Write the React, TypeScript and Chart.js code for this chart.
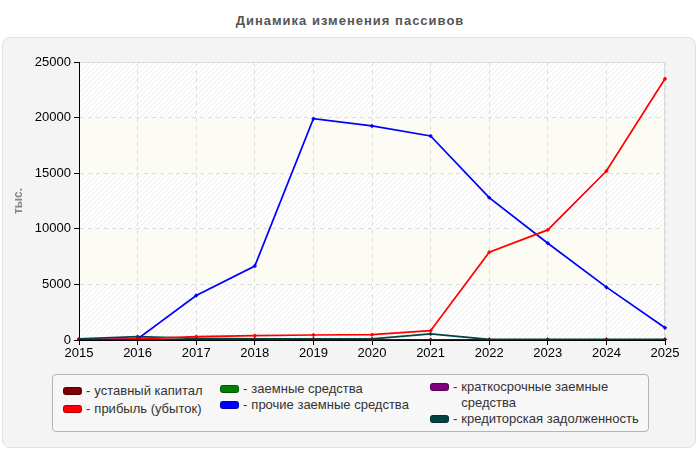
import { useEffect, useRef } from 'react';
import { Chart, registerables } from 'chart.js';

Chart.register(...registerables);

const years = ['2015', '2016', '2017', '2018', '2019', '2020', '2021', '2022', '2023', '2024', '2025'];
const yTicks = [0, 5000, 10000, 15000, 20000, 25000];

const ustavCapital = [10, 10, 10, 10, 10, 10, 10, 10, 10, 10, 10];
const profit = [0, 100, 300, 390, 450, 480, 840, 7900, 9900, 15200, 23500];
const loans = [0, 0, 0, 0, 0, 0, 0, 0, 0, 0, 0];
const otherLoans = [0, 100, 4000, 6650, 19900, 19250, 18350, 12800, 8700, 4750, 1100];
const shortLoans = [0, 0, 0, 0, 0, 0, 0, 0, 0, 0, 0];
const payables = [100, 300, 150, 100, 100, 100, 550, 50, 50, 50, 50];

const FONT = '"Liberation Sans", Arial, sans-serif';

const series = [
  { label: 'уставный капитал', data: ustavCapital, color: '#800000' },
  { label: 'прибыль (убыток)', data: profit, color: '#ff0000' },
  { label: 'заемные средства', data: loans, color: '#008000' },
  { label: 'прочие заемные средства', data: otherLoans, color: '#0000ff' },
  { label: 'краткосрочные заемные средства', data: shortLoans, color: '#800080' },
  { label: 'кредиторская задолженность', data: payables, color: '#004444' },
];

function makeHatch(ctx: CanvasRenderingContext2D) {
  const c = document.createElement('canvas');
  c.width = 5;
  c.height = 5;
  const g = c.getContext('2d')!;
  g.fillStyle = '#ffffff';
  g.fillRect(0, 0, 5, 5);
  g.strokeStyle = '#ececec';
  g.lineWidth = 1;
  g.beginPath();
  g.moveTo(-1, 6);
  g.lineTo(6, -1);
  g.stroke();
  return ctx.createPattern(c, 'repeat');
}

const bandsPlugin = {
  id: 'bands',
  beforeDraw(chart: any) {
    const { ctx, chartArea: a, scales } = chart;
    const y = scales.y;
    const hatch = makeHatch(ctx);
    ctx.save();
    for (let i = 0; i < yTicks.length - 1; i++) {
      const top = y.getPixelForValue(yTicks[i + 1]);
      const bottom = y.getPixelForValue(yTicks[i]);
      ctx.fillStyle = i % 2 === 0 ? hatch : '#fcfcf4';
      ctx.fillRect(a.left, top, a.right - a.left, bottom - top);
    }
    ctx.strokeStyle = '#dcdcdc';
    ctx.lineWidth = 1;
    ctx.beginPath();
    ctx.moveTo(a.left, a.top + 0.5);
    ctx.lineTo(a.right - 0.5, a.top + 0.5);
    ctx.lineTo(a.right - 0.5, a.bottom);
    ctx.stroke();
    ctx.restore();
  },
};

function LiabilitiesChart() {
  const canvasRef = useRef<HTMLCanvasElement>(null);
  const chartRef = useRef<Chart | null>(null);

  useEffect(() => {
    if (!canvasRef.current) return;
    const ctx = canvasRef.current.getContext('2d');
    if (!ctx) return;
    if (chartRef.current) chartRef.current.destroy();

    chartRef.current = new Chart(ctx, {
      type: 'line',
      data: {
        labels: years,
        datasets: series.map((s) => ({
          label: s.label,
          data: s.data,
          borderColor: s.color,
          backgroundColor: s.color,
          borderWidth: 1.7,
          pointStyle: 'rectRot',
          pointRadius: 2.2,
          pointBorderWidth: 0,
          tension: 0,
          fill: false,
        })),
      },
      options: {
        responsive: false,
        animation: false,
        layout: { padding: { top: 25, right: 35, bottom: 6, left: 0 } },
        plugins: {
          legend: { display: false },
          tooltip: { enabled: false },
        },
        scales: {
          x: {
            offset: false,
            afterFit: (scale: any) => {
              scale.height = 26;
            },
            grid: {
              color: '#dddddd',
              tickColor: '#000',
              tickLength: 5,
            },
            border: { color: '#000', width: 1, dash: [4, 4] } as any,
            ticks: {
              color: '#000',
              font: { size: 13, family: FONT },
              padding: 1,
              maxRotation: 0,
            },
          },
          y: {
            min: 0,
            max: 25000,
            afterFit: (scale: any) => {
              scale.width = 79;
            },
            afterBuildTicks: (scale: any) => {
              scale.ticks = yTicks.map((v) => ({ value: v }));
            },
            grid: {
              color: (c: any) => (c.tick && c.tick.value === 25000 ? 'rgba(0,0,0,0)' : '#dddddd'),
              tickColor: '#000',
              tickLength: 5,
            },
            border: { color: '#000', width: 1, dash: [4, 4] } as any,
            ticks: {
              color: '#000',
              font: { size: 13, family: FONT },
              padding: 3,
              callback: (v: any) => String(v),
            },
            title: {
              display: true,
              text: 'тыс.',
              color: '#888',
              font: { size: 12, family: FONT, weight: 'bold' },
              padding: { top: 11, bottom: 0 },
            },
          },
        },
      },
      plugins: [bandsPlugin],
    });

    return () => {
      if (chartRef.current) {
        chartRef.current.destroy();
        chartRef.current = null;
      }
    };
  }, []);

  return (
    <canvas
      ref={canvasRef}
      width={700}
      height={335}
      style={{ position: 'absolute', left: 0, top: 37, width: 700, height: 335 }}
    />
  );
}

function Swatch({ color }: { color: string }) {
  return (
    <span
      style={{
        display: 'inline-block',
        width: 19,
        height: 8,
        background: color,
        borderRadius: 3,
        border: '1px solid rgba(0,0,0,0.3)',
        boxSizing: 'border-box',
        marginRight: 4,
        marginTop: 4,
        flexShrink: 0,
      }}
    />
  );
}

function LegendItem({ label, color, width }: { label: string; color: string; width?: number }) {
  return (
    <div style={{ display: 'flex', alignItems: 'flex-start', lineHeight: '16px' }}>
      <Swatch color={color} />
      <span style={{ marginRight: 4 }}>-</span>
      <span style={{ width }}>{label}</span>
    </div>
  );
}

export default function App() {
  return (
    <div
      style={{
        position: 'absolute',
        left: 0,
        top: 0,
        width: 700,
        height: 450,
        background: '#fff',
        fontFamily: FONT,
        overflow: 'hidden',
      }}
    >
      <div
        style={{
          position: 'absolute',
          top: 13,
          left: 0,
          width: 700,
          textAlign: 'center',
          fontSize: 13,
          fontWeight: 'bold',
          letterSpacing: 1,
          color: '#555',
        }}
      >
        Динамика изменения пассивов
      </div>
      <div
        style={{
          position: 'absolute',
          left: 2,
          top: 37,
          width: 694,
          height: 411,
          boxSizing: 'border-box',
          background: '#f4f4f4',
          border: '1px solid #e2e2e2',
          borderRadius: 8,
        }}
      />
      <LiabilitiesChart />
      <div
        style={{
          position: 'absolute',
          left: 52,
          top: 374,
          width: 597,
          height: 58,
          boxSizing: 'border-box',
          background: '#f7f7f7',
          border: '1px solid #b4b4b4',
          borderRadius: 4,
          fontSize: 13,
          color: '#333',
        }}
      >
        <div style={{ position: 'absolute', left: 10, top: 8 }}>
          <div style={{ marginBottom: 2 }}>
            <LegendItem label={series[0].label} color={series[0].color} />
          </div>
          <LegendItem label={series[1].label} color={series[1].color} />
        </div>
        <div style={{ position: 'absolute', left: 167, top: 6 }}>
          <LegendItem label={series[2].label} color={series[2].color} />
          <LegendItem label={series[3].label} color={series[3].color} />
        </div>
        <div style={{ position: 'absolute', left: 377, top: 4 }}>
          <LegendItem label={series[4].label} color={series[4].color} width={165} />
          <LegendItem label={series[5].label} color={series[5].color} />
        </div>
      </div>
    </div>
  );
}
